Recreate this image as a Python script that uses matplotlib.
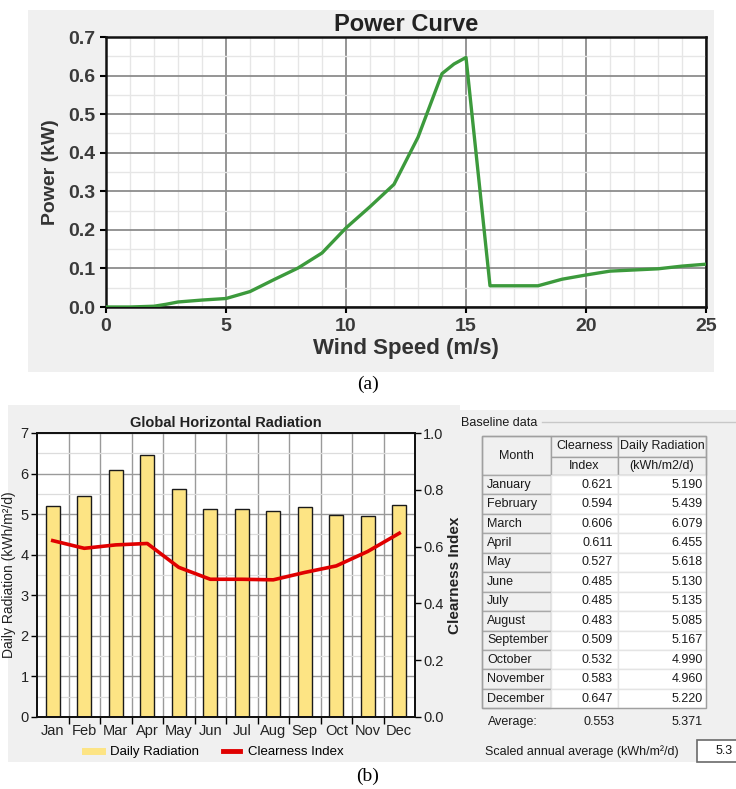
import numpy as np
import matplotlib
matplotlib.use("Agg")
import matplotlib.pyplot as plt
from matplotlib.patches import Rectangle
from matplotlib.lines import Line2D
from matplotlib.ticker import MultipleLocator

# wind turbine power curve
wind_speed = [0, 1, 2, 2.5, 3, 4, 5, 6, 7, 8, 9, 10, 11, 12, 13, 14, 14.5, 15,
              16, 17, 18, 19, 20, 21, 22, 23, 24, 25]
power_kw = [0.0, 0.0, 0.002, 0.007, 0.013, 0.018, 0.022, 0.040, 0.071, 0.101,
            0.140, 0.205, 0.260, 0.318, 0.440, 0.605, 0.630, 0.647,
            0.055, 0.055, 0.055, 0.072, 0.083, 0.093, 0.096, 0.099, 0.106, 0.111]

# monthly solar resource
months_short = ["Jan", "Feb", "Mar", "Apr", "May", "Jun",
                "Jul", "Aug", "Sep", "Oct", "Nov", "Dec"]
months_full = ["January", "February", "March", "April", "May", "June",
               "July", "August", "September", "October", "November", "December"]
clearness = [0.621, 0.594, 0.606, 0.611, 0.527, 0.485,
             0.485, 0.483, 0.509, 0.532, 0.583, 0.647]
radiation = [5.190, 5.439, 6.079, 6.455, 5.618, 5.130,
             5.135, 5.085, 5.167, 4.990, 4.960, 5.220]
avg_clearness = 0.553
avg_radiation = 5.371
scaled_avg = "5.3"

SANS = ["Liberation Sans", "DejaVu Sans"]
SERIF = ["Liberation Serif", "DejaVu Serif"]
PANEL = "#f0f0f0"
BAR = "#fde484"
RED = "#e00000"
GREEN = "#3c9a3c"

W, H = 736, 789
fig = plt.figure(figsize=(W / 100, H / 100), dpi=100)


def box(x0, y0, x1, y1):
    return [x0 / W, 1 - y1 / H, (x1 - x0) / W, (y1 - y0) / H]


# pixel-space canvas for panel backgrounds and the table
bg = fig.add_axes([0, 0, 1, 1], zorder=0)
bg.set_xlim(0, W)
bg.set_ylim(H, 0)
bg.axis("off")
bg.add_patch(Rectangle((28, 10), 686, 362, fc=PANEL, ec="none"))
bg.add_patch(Rectangle((8, 405), 452, 357, fc=PANEL, ec="none"))
bg.add_patch(Rectangle((455, 410), 281, 352, fc=PANEL, ec="none"))

# ---- (a) power curve ----
ax1 = fig.add_axes(box(106, 37, 706, 307), zorder=1)
ax1.plot(wind_speed, power_kw, color=GREEN, lw=2.4, zorder=3)
ax1.set_xlim(0, 25)
ax1.set_ylim(0, 0.7)
ax1.xaxis.set_minor_locator(MultipleLocator(1))
ax1.yaxis.set_minor_locator(MultipleLocator(0.05))
ax1.set_xticks(range(0, 26, 5))
ax1.set_xticklabels([str(v) for v in range(0, 26, 5)],
                    fontweight="bold", family=SANS)
yt = np.round(np.arange(0, 0.71, 0.1), 1)
ax1.set_yticks(yt)
ax1.set_yticklabels([f"{v:.1f}" for v in yt], fontweight="bold", family=SANS)
ax1.grid(which="major", color="#8c8c8c", lw=1.3)
ax1.grid(which="minor", color="#e6e6e6", lw=1.0)
ax1.set_axisbelow(True)
ax1.tick_params(which="minor", length=0)
ax1.tick_params(which="major", length=4, width=1.5, labelsize=14,
                labelcolor="#3a3a3a", pad=4)
for s in ax1.spines.values():
    s.set_linewidth(1.8)
    s.set_color("#111111")
ax1.set_title("Power Curve", fontsize=17, fontweight="bold", family=SANS,
              color="#222222", pad=4)
ax1.set_xlabel("Wind Speed (m/s)", fontsize=16, fontweight="bold",
               family=SANS, color="#333333", labelpad=2)
ax1.set_ylabel("Power (kW)", fontsize=14, fontweight="bold", family=SANS,
               color="#333333", labelpad=6)
bg.text(368, 384, "(a)", ha="center", va="center", fontsize=14, family=SERIF)

# ---- (b) global horizontal radiation ----
ax2 = fig.add_axes(box(37, 433, 415, 717), zorder=1)
x = np.arange(len(months_short))
ax2.bar(x, radiation, width=0.46, color=BAR, edgecolor="#1a1a1a", lw=1.0,
        zorder=2)
ax2.set_xlim(-0.5, 11.5)
ax2.set_ylim(0, 7)
ax2.set_xticks(x)
ax2.set_xticklabels(months_short, family=SANS, fontsize=10.5)
ax2.set_xticks(np.arange(0.5, 11.5, 1), minor=True)
ax2.set_yticks(range(8))
ax2.set_yticklabels([str(v) for v in range(8)], family=SANS, fontsize=10.5)
ax2.yaxis.set_minor_locator(MultipleLocator(0.5))
ax2.grid(axis="y", which="major", color="#9a9a9a", lw=1.0)
ax2.grid(axis="y", which="minor", color="#dcdcdc", lw=0.9)
ax2.grid(axis="x", which="minor", color="#9a9a9a", lw=1.0)
ax2.set_axisbelow(True)
ax2.tick_params(axis="x", which="major", length=0, pad=5, labelcolor="#222222")
ax2.tick_params(axis="x", which="minor", length=5, width=1)
ax2.tick_params(axis="y", which="major", length=4, width=1, pad=2,
                labelcolor="#222222")
ax2.tick_params(axis="y", which="minor", length=0)
ax2.set_ylabel("Daily Radiation (kWh/m²/d)", family=SANS, fontsize=10,
               color="#222222")
ax2.yaxis.set_label_coords(-0.055, 0.5)
ax2.set_title("Global Horizontal Radiation", family=SANS, fontsize=10.5,
              fontweight="bold", color="#222222", pad=4)

ax3 = ax2.twinx()
ax3.plot(x, clearness, color=RED, lw=2.6, zorder=3)
ax3.set_ylim(0, 1)
ct = np.round(np.arange(0, 1.01, 0.2), 1)
ax3.set_yticks(ct)
ax3.set_yticklabels([f"{v:.1f}" for v in ct], family=SANS, fontsize=10.5)
ax3.tick_params(axis="y", length=4, width=1, pad=2, labelcolor="#222222")
ax3.set_ylabel("Clearness Index", family=SANS, fontsize=11,
               fontweight="bold", color="#222222", labelpad=3)
for a in (ax2, ax3):
    for s in a.spines.values():
        s.set_linewidth(1.3)
        s.set_color("#111111")

handles = [Line2D([], [], color=BAR, lw=5), Line2D([], [], color=RED, lw=3.5)]
fig.legend(handles, ["Daily Radiation", "Clearness Index"], loc="center",
           bbox_to_anchor=(214 / W, 1 - 752 / H), ncol=2, frameon=False,
           prop={"family": SANS, "size": 9.5}, handlelength=1.3,
           columnspacing=1.8, handletextpad=0.6)

# ---- baseline data table ----
TF = {"family": SANS, "fontsize": 9, "color": "#1a1a1a"}
bg.text(461, 423, "Baseline data", ha="left", va="center", **TF)
bg.plot([542, 736], [422, 422], color="#c8c8c8", lw=1)

cols = [482, 551, 618, 706]
hy = [436, 456.7, 475]
row_h = (708.3 - hy[2]) / len(months_full)

bg.add_patch(Rectangle((cols[0], hy[0]), cols[1] - cols[0], hy[2] - hy[0],
                       fc=PANEL, ec="#a0a0a0", lw=1))
bg.text((cols[0] + cols[1]) / 2, (hy[0] + hy[2]) / 2, "Month",
        ha="center", va="center", **TF)
headers = [("Clearness", "Index"), ("Daily Radiation", "(kWh/m2/d)")]
for i, (top, bottom) in enumerate(headers):
    for j, label in enumerate((top, bottom)):
        bg.add_patch(Rectangle((cols[i + 1], hy[j]), cols[i + 2] - cols[i + 1],
                               hy[j + 1] - hy[j], fc=PANEL, ec="#a0a0a0", lw=1))
        bg.text((cols[i + 1] + cols[i + 2]) / 2, (hy[j] + hy[j + 1]) / 2,
                label, ha="center", va="center", **TF)

for r, (m, ci, rad) in enumerate(zip(months_full, clearness, radiation)):
    y0 = hy[2] + r * row_h
    yc = y0 + row_h / 2
    bg.add_patch(Rectangle((cols[0], y0), cols[1] - cols[0], row_h,
                           fc=PANEL, ec="#a8a8a8", lw=1))
    bg.add_patch(Rectangle((cols[1], y0), cols[2] - cols[1], row_h,
                           fc="white", ec="#e4e4e4", lw=1))
    bg.add_patch(Rectangle((cols[2], y0), cols[3] - cols[2], row_h,
                           fc="white", ec="#e4e4e4", lw=1))
    bg.text(cols[0] + 5, yc, m, ha="left", va="center", **TF)
    bg.text(cols[2] - 5, yc, f"{ci:.3f}", ha="right", va="center", **TF)
    bg.text(cols[3] - 3, yc, f"{rad:.3f}", ha="right", va="center", **TF)

bg.add_patch(Rectangle((cols[0], hy[0]), cols[3] - cols[0], 708.3 - hy[0],
                       fc="none", ec="#a0a0a0", lw=1))

bg.text(488, 721.7, "Average:", ha="left", va="center", **TF)
bg.text(615, 721.7, f"{avg_clearness:.3f}", ha="right", va="center", **TF)
bg.text(703, 721.7, f"{avg_radiation:.3f}", ha="right", va="center", **TF)

bg.text(485, 752, "Scaled annual average (kWh/m²/d)", ha="left", va="center",
        **TF)
bg.add_patch(Rectangle((697, 740), 45, 22, fc="white", ec="#6a6a6a", lw=1.2))
bg.text(733, 751, scaled_avg, ha="right", va="center", **TF)

bg.text(368, 776, "(b)", ha="center", va="center", fontsize=14, family=SERIF)

fig.savefig("out.png", dpi=100)
